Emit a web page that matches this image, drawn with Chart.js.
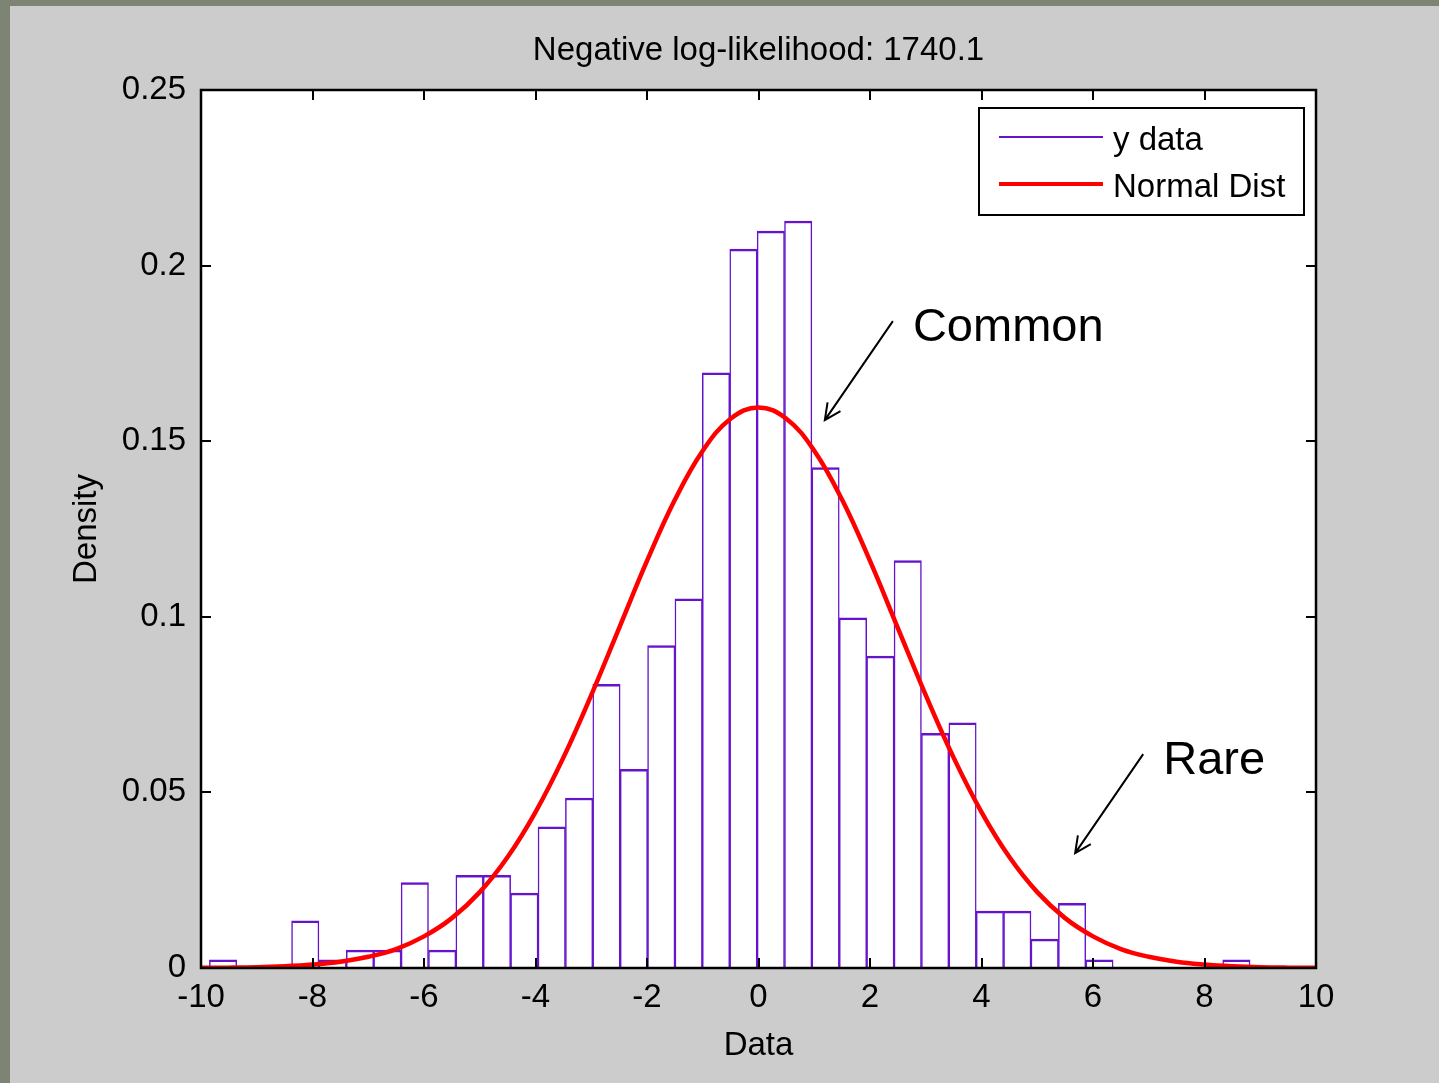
<!DOCTYPE html>
<html>
<head>
<meta charset="utf-8">
<script src="https://cdn.jsdelivr.net/npm/chart.js@4.4.1/dist/chart.umd.min.js"></script>
<style>
	html, body { margin: 0; padding: 0; background: #7e8474; }
	#panel { position: absolute; left: 10px; top: 6px; width: 1429px; height: 1077px; background: #cccccc; }
	canvas { display: block; }
</style>
</head>
<body>
<div id="panel"><canvas id="myChart" width="1429" height="1077"></canvas></div>
<script>
// histogram bins (centers) and density per bin
const binCenters = [-9.604, -9.113, -8.622, -8.130, -7.639, -7.148, -6.657, -6.165, -5.674, -5.183,
	-4.692, -4.200, -3.709, -3.218, -2.727, -2.235, -1.744, -1.253, -0.762, -0.270,
	0.221, 0.712, 1.203, 1.695, 2.186, 2.677, 3.168, 3.660, 4.151, 4.642,
	5.133, 5.625, 6.116, 6.607, 7.098, 7.590, 8.081, 8.572];
const binDensity = [0.0023, 0, 0, 0.0134, 0.0023, 0.0051, 0.0051, 0.0243, 0.0051, 0.0264,
	0.0264, 0.0213, 0.0402, 0.0484, 0.0808, 0.0566, 0.0918, 0.1051, 0.1695, 0.2047,
	0.2098, 0.2127, 0.1425, 0.0997, 0.0888, 0.1160, 0.0668, 0.0698, 0.0162, 0.0162,
	0.0082, 0.0184, 0.0023, 0, 0, 0, 0, 0.0023];

// fitted normal curve
const curveX = [-10, -9.5, -9, -8.5, -8, -7.5, -7, -6.5, -6, -5.5, -5, -4.5, -4, -3.5, -3, -2.5, -2, -1.5, -1, -0.5,
	0, 0.5, 1, 1.5, 2, 2.5, 3, 3.5, 4, 4.5, 5, 5.5, 6, 6.5, 7, 7.5, 8, 8.5, 9, 9.5, 10];
const curveY = [0.0001, 0.0001, 0.0002, 0.0005, 0.0010, 0.0018, 0.0032, 0.0054, 0.0090, 0.0142,
	0.0216, 0.0316, 0.0444, 0.0599, 0.0777, 0.0968, 0.1159, 0.1333, 0.1473, 0.1564,
	0.1596, 0.1564, 0.1473, 0.1333, 0.1159, 0.0968, 0.0777, 0.0599, 0.0444, 0.0316,
	0.0216, 0.0142, 0.0090, 0.0054, 0.0032, 0.0018, 0.0010, 0.0005, 0.0002, 0.0001, 0.0001];

const xTickLabels = ["-10", "-8", "-6", "-4", "-2", "0", "2", "4", "6", "8", "10"];
const yTickLabels = ["0", "0.05", "0.1", "0.15", "0.2", "0.25"];
const seriesNames = ["y data", "Normal Dist"];
const titleText = "Negative log-likelihood: 1740.1";

// text notes with arrows, in data units
const notes = [
	{text: "Common", tx: 2.77, ty: 0.1785, ax: 2.41, ay: 0.1842, bx: 1.19, by: 0.156},
	{text: "Rare", tx: 7.26, ty: 0.0552, ax: 6.90, ay: 0.0609, bx: 5.68, by: 0.0327}
];

const sans = "'Liberation Sans', Arial, sans-serif";
const purple = "#6614cc";
const red = "#ff0000";

function histPoints(){
	let pts = [];
	for(let i = 0; i < binCenters.length; i++){
		pts.push({x: binCenters[i], y: binDensity[i]});
	}
	return pts;
}

function curvePoints(){
	let pts = [];
	for(let i = 0; i < curveX.length; i++){
		pts.push({x: curveX[i], y: curveY[i]});
	}
	return pts;
}

const matlabAxes = {
	id: "matlabAxes",
	beforeDatasetsDraw(chart){
		const a = chart.chartArea;
		const c = chart.ctx;
		c.save();
		c.fillStyle = "#ffffff";
		c.fillRect(a.left, a.top, a.right - a.left, a.bottom - a.top);
		c.restore();
	},
	afterDatasetsDraw(chart){
		const a = chart.chartArea;
		const c = chart.ctx;
		const xs = chart.scales.x;
		const ys = chart.scales.y;
		c.save();
		c.strokeStyle = "#000000";
		c.lineWidth = 2;
		// inward ticks on four sides
		c.beginPath();
		xs.ticks.forEach(t => {
			const px = Math.round(xs.getPixelForValue(t.value));
			c.moveTo(px, a.bottom); c.lineTo(px, a.bottom - 10);
			c.moveTo(px, a.top); c.lineTo(px, a.top + 10);
		});
		ys.ticks.forEach(t => {
			const py = Math.round(ys.getPixelForValue(t.value));
			c.moveTo(a.left, py); c.lineTo(a.left + 10, py);
			c.moveTo(a.right, py); c.lineTo(a.right - 10, py);
		});
		c.stroke();
		c.lineWidth = 2.5;
		c.strokeRect(a.left, a.top, a.right - a.left, a.bottom - a.top);

		// legend box
		const bw = 325, bh = 107;
		const bx = a.right - 12 - bw, by = a.top + 18;
		c.fillStyle = "#ffffff";
		c.fillRect(bx, by, bw, bh);
		c.lineWidth = 2;
		c.strokeRect(bx, by, bw, bh);
		const ds = chart.data.datasets;
		const rows = [by + 29, by + 76];
		c.font = "33px " + sans;
		c.textBaseline = "middle";
		c.textAlign = "left";
		for(let i = 0; i < ds.length; i++){
			c.strokeStyle = ds[i].borderColor;
			c.lineWidth = i == 0 ? 2 : 4;
			c.beginPath();
			c.moveTo(bx + 20, rows[i]);
			c.lineTo(bx + 124, rows[i]);
			c.stroke();
			c.fillStyle = "#000000";
			c.fillText(ds[i].label, bx + 134, rows[i] + 4);
		}

		// notes
		c.font = "47px " + sans;
		c.textBaseline = "alphabetic";
		c.fillStyle = "#000000";
		c.strokeStyle = "#000000";
		c.lineWidth = 2;
		notes.forEach(n => {
			c.fillText(n.text, xs.getPixelForValue(n.tx), ys.getPixelForValue(n.ty));
			const x1 = xs.getPixelForValue(n.ax), y1 = ys.getPixelForValue(n.ay);
			const x2 = xs.getPixelForValue(n.bx), y2 = ys.getPixelForValue(n.by);
			const ang = Math.atan2(y2 - y1, x2 - x1);
			c.beginPath();
			c.moveTo(x1, y1); c.lineTo(x2, y2);
			c.moveTo(x2 - 18 * Math.cos(ang - 0.45), y2 - 18 * Math.sin(ang - 0.45));
			c.lineTo(x2, y2);
			c.lineTo(x2 - 18 * Math.cos(ang + 0.45), y2 - 18 * Math.sin(ang + 0.45));
			c.stroke();
		});
		c.restore();
	}
};

const ctx = document.getElementById("myChart").getContext("2d");

let myChart = new Chart(ctx, {
	type: "bar",
	data: {
		datasets: [
			{
				label: seriesNames[0],
				data: histPoints(),
				backgroundColor: "#ffffff",
				borderColor: purple,
				borderWidth: {top: 2.5, left: 1.5, right: 1.5, bottom: 0},
				borderSkipped: false,
				categoryPercentage: 1,
				barPercentage: 1,
				order: 1
			},
			{
				type: "line",
				label: seriesNames[1],
				data: curvePoints(),
				borderColor: red,
				borderWidth: 4.5,
				pointRadius: 0,
				tension: 0.4,
				fill: false,
				order: 0
			}
		]
	},
	options: {
		responsive: false,
		animation: false,
		devicePixelRatio: 1,
		layout: {padding: {left: 0, right: 123, top: 0, bottom: 0}},
		plugins: {
			legend: {display: false},
			tooltip: {enabled: false},
			title: {
				display: true,
				text: titleText,
				fullSize: false,
				color: "#000000",
				font: {family: sans, size: 33, weight: "normal"},
				padding: {top: 25, bottom: 19.4}
			}
		},
		scales: {
			x: {
				type: "linear",
				min: -10,
				max: 10,
				offset: false,
				grid: {display: false},
				border: {display: false},
				ticks: {
					stepSize: 2,
					padding: 2,
					color: "#000000",
					font: {family: sans, size: 33},
					callback: (v, i) => xTickLabels[i]
				},
				title: {
					display: true,
					text: "Data",
					color: "#000000",
					font: {family: sans, size: 33},
					padding: {top: 0, bottom: 17}
				},
				afterFit: s => { s.height = 115; }
			},
			y: {
				min: 0,
				max: 0.25,
				grid: {display: false},
				border: {display: false},
				ticks: {
					stepSize: 0.05,
					padding: 7,
					color: "#000000",
					font: {family: sans, size: 33},
					callback: (v, i) => yTickLabels[i]
				},
				title: {
					display: true,
					text: "Density",
					color: "#000000",
					font: {family: sans, size: 33},
					padding: {top: 57, bottom: 0}
				},
				afterFit: s => { s.width = 191; }
			}
		}
	},
	plugins: [matlabAxes]
});
</script>
</body>
</html>
